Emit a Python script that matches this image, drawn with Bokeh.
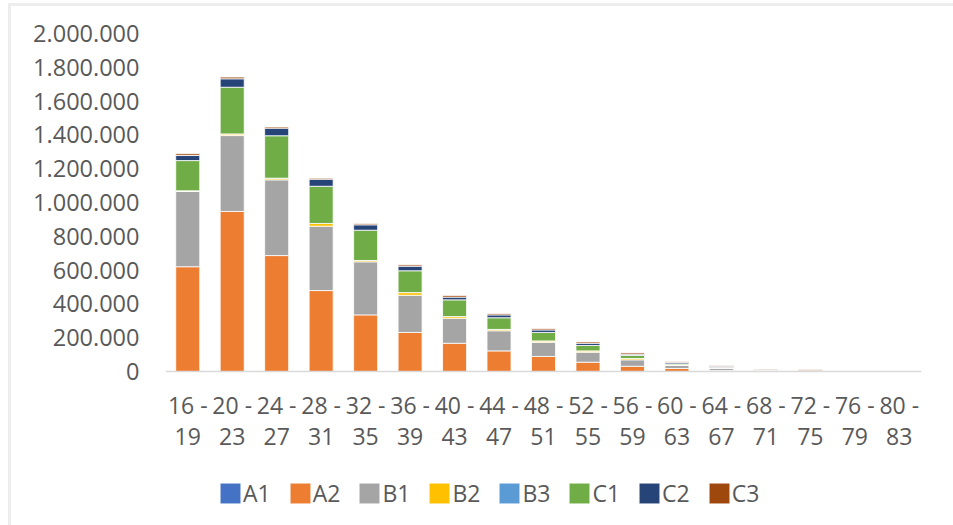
from bokeh.plotting import figure
from bokeh.models import Range1d, FixedTicker, Legend, LegendItem, FactorRange, Span
from bokeh.core.properties import value
from bokeh.embed import file_html
from bokeh.resources import INLINE

# ---- data ----
categories = ["16 - 19", "20 - 23", "24 - 27", "28 - 31", "32 - 35", "36 - 39",
              "40 - 43", "44 - 47", "48 - 51", "52 - 55", "56 - 59", "60 - 63",
              "64 - 67", "68 - 71", "72 - 75", "76 - 79", "80 - 83"]
x_labels_line1 = ["16 -", "20 -", "24 -", "28 -", "32 -", "36 -", "40 -", "44 -", "48 -",
                  "52 -", "56 -", "60 -", "64 -", "68 -", "72 -", "76 -", "80 -"]
x_labels_line2 = ["19", "23", "27", "31", "35", "39", "43", "47", "51",
                  "55", "59", "63", "67", "71", "75", "79", "83"]
series_names = ["A1", "A2", "B1", "B2", "B3", "C1", "C2", "C3"]
A1 = [0, 0, 0, 0, 0, 0, 0, 0, 0, 0, 0, 0, 0, 0, 0, 0, 0]
A2 = [620000, 947000, 686000, 479000, 335000, 231000, 167000, 122000, 89000, 55000, 31000, 18000, 6000, 2000, 2000, 1000, 0]
B1 = [445000, 449000, 448000, 381000, 314000, 220000, 148000, 119000, 83000, 59000, 38000, 19000, 14000, 3000, 2000, 0, 0]
B2 = [4000, 10000, 10000, 16000, 8000, 16000, 10000, 8000, 9000, 8000, 8000, 2000, 1000, 0, 0, 0, 0]
B3 = [0, 0, 0, 0, 0, 0, 0, 0, 0, 0, 0, 0, 0, 0, 0, 0, 0]
C1 = [179000, 276000, 251000, 220000, 179000, 129000, 99000, 69000, 50000, 32000, 18000, 6000, 4000, 1000, 0, 0, 0]
C2 = [30000, 50000, 45000, 42000, 32000, 27000, 16000, 17000, 15000, 13000, 7000, 8000, 6000, 3000, 1000, 0, 0]
C3 = [10000, 10000, 7000, 6000, 8000, 8000, 10000, 8000, 8000, 8000, 8000, 6000, 4000, 4000, 5000, 1000, 0]
colors = ["#4472C4", "#ED7D31", "#A5A5A5", "#FFC000", "#5B9BD5", "#70AD47", "#264478", "#9E480E"]
y_ticks = [0, 200000, 400000, 600000, 800000, 1000000, 1200000, 1400000, 1600000, 1800000, 2000000]
y_tick_labels = ["0", "200.000", "400.000", "600.000", "800.000", "1.000.000", "1.200.000",
                 "1.400.000", "1.600.000", "1.800.000", "2.000.000"]

source = dict(cat=categories, A1=A1, A2=A2, B1=B1, B2=B2, B3=B3, C1=C1, C2=C2, C3=C3)

FONT = "Open Sans"
TXT = "#595959"
FRAME_BORDER = "#EDEDED"

# ---- layout (pixels) ----
W, H = 953, 525
TOP, LEFT, RIGHT_M = 33, 165, 32
ZERO_PX = 371            # screen y of the value 0
BOTTOM_M = 9
frame_h = H - TOP - BOTTOM_M
y_max = y_ticks[-1]
px_per_unit = (ZERO_PX - TOP) / y_max
y_min = -(TOP + frame_h - ZERO_PX) / px_per_unit

p = figure(x_range=FactorRange(*categories, range_padding=0), y_range=Range1d(y_min, y_max),
           width=W, height=H, output_backend="svg", toolbar_location=None,
           x_axis_location=None,
           min_border_left=LEFT, min_border_right=RIGHT_M, min_border_top=TOP,
           min_border_bottom=BOTTOM_M)

# light chart-area border (top and left edges, as in the reference)
p.border_fill_alpha = 0
p.background_fill_alpha = 0
p.styles = {
    "background": (f"linear-gradient({FRAME_BORDER},{FRAME_BORDER}) 8px 3px / 100% 3px no-repeat, "
                   f"linear-gradient({FRAME_BORDER},{FRAME_BORDER}) 8px 3px / 3px 100% no-repeat, #FFFFFF")
}

renderers = p.vbar_stack(series_names, x="cat", width=0.54, color=colors, source=source,
                         line_color="white", line_width=0.8)

p.outline_line_color = None
p.xgrid.grid_line_color = None
p.ygrid.grid_line_color = None

# category axis line
p.add_layout(Span(location=0, dimension="width", line_color="#D9D9D9", line_width=1.5))

# category labels (two lines)
zeros = [0] * len(categories)
p.text(x=categories, y=zeros, text=x_labels_line1, text_align="center", text_baseline="middle",
       y_offset=33, text_font=value(FONT), text_font_size=value("23px"), text_color=TXT)
p.text(x=categories, y=zeros, text=x_labels_line2, text_align="center", text_baseline="middle",
       y_offset=65, text_font=value(FONT), text_font_size=value("23px"), text_color=TXT)

p.yaxis.ticker = FixedTicker(ticks=y_ticks)
p.yaxis.major_label_overrides = {t: l for t, l in zip(y_ticks, y_tick_labels)}
p.yaxis.axis_line_color = None
p.yaxis.major_tick_line_color = None
p.yaxis.minor_tick_line_color = None
p.yaxis.major_tick_out = 0
p.yaxis.major_tick_in = 0
p.yaxis.major_label_standoff = 26
p.yaxis.major_label_text_font = FONT
p.yaxis.major_label_text_font_size = "23.5px"
p.yaxis.major_label_text_color = TXT

legend = Legend(items=[LegendItem(label=n, renderers=[r]) for n, r in zip(series_names, renderers)],
                orientation="horizontal", location=(52, 7),
                glyph_width=26, glyph_height=26, label_standoff=0, spacing=16, padding=0,
                margin=0, border_line_color=None, background_fill_alpha=0,
                label_text_font=FONT, label_text_font_size="23px", label_text_color=TXT)
p.add_layout(legend, "center")

open("out.html", "w").write(file_html(p, INLINE))
